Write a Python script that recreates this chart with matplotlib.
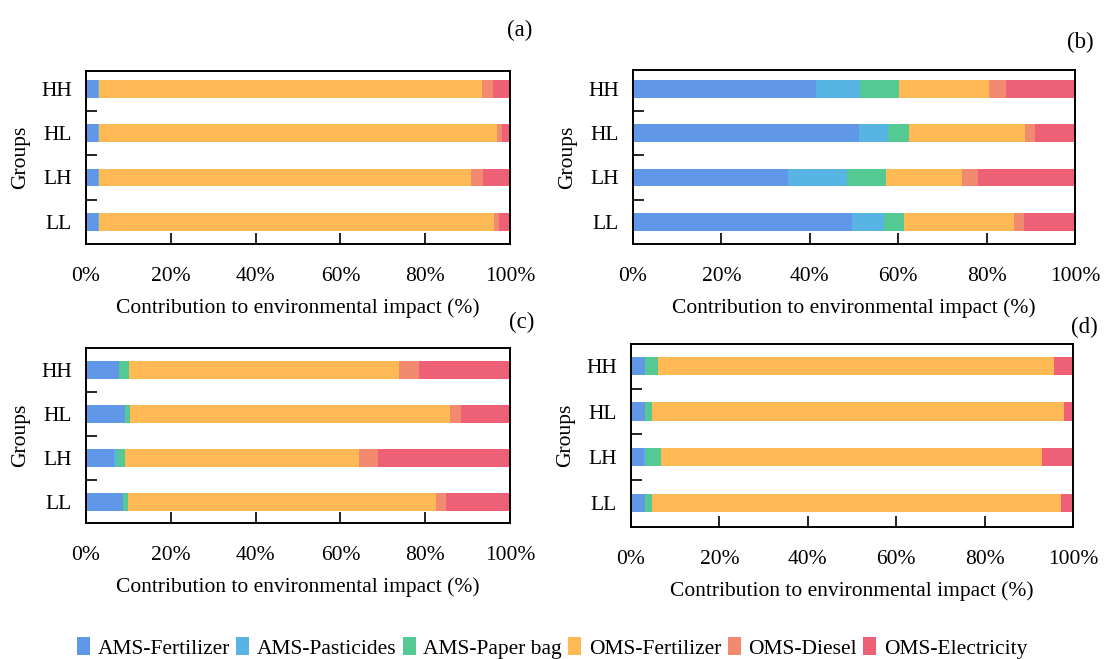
import matplotlib
matplotlib.use("Agg")
import matplotlib.pyplot as plt
import numpy as np

plt.rcParams['font.family'] = ['Liberation Serif', 'DejaVu Serif']

groups = ["LL", "LH", "HL", "HH"]
components = ["AMS-Fertilizer", "AMS-Pasticides", "AMS-Paper bag",
              "OMS-Fertilizer", "OMS-Diesel", "OMS-Electricity"]
colors = ["#6097E6", "#58B5E3", "#55C994", "#FFBA55", "#F28A70", "#EE6075"]

# values per panel, rows = components, columns = groups (LL, LH, HL, HH)
panel_a = {
    "AMS-Fertilizer":  [2.75, 2.75, 2.75, 2.75],
    "AMS-Pasticides":  [0.3, 0.3, 0.3, 0.3],
    "AMS-Paper bag":   [0.0, 0.0, 0.0, 0.0],
    "OMS-Fertilizer":  [93.2, 87.7, 93.9, 90.3],
    "OMS-Diesel":      [1.2, 2.8, 1.2, 2.6],
    "OMS-Electricity": [2.6, 6.4, 1.9, 4.0],
}
panel_b = {
    "AMS-Fertilizer":  [49.6, 35.1, 51.2, 41.4],
    "AMS-Pasticides":  [7.2, 13.4, 6.5, 9.95],
    "AMS-Paper bag":   [4.4, 8.8, 4.8, 8.9],
    "OMS-Fertilizer":  [24.9, 17.2, 26.2, 20.4],
    "OMS-Diesel":      [2.3, 3.6, 2.3, 3.85],
    "OMS-Electricity": [11.6, 21.9, 9.0, 15.5],
}
panel_c = {
    "AMS-Fertilizer":  [8.7, 6.6, 9.2, 7.8],
    "AMS-Pasticides":  [0.0, 0.7, 0.0, 0.0],
    "AMS-Paper bag":   [1.2, 1.9, 1.2, 2.4],
    "OMS-Fertilizer":  [72.6, 55.2, 75.5, 63.7],
    "OMS-Diesel":      [2.4, 4.5, 2.6, 4.7],
    "OMS-Electricity": [15.1, 31.1, 11.5, 21.4],
}
panel_d = {
    "AMS-Fertilizer":  [3.25, 3.0, 3.25, 3.25],
    "AMS-Pasticides":  [0.0, 0.45, 0.0, 0.0],
    "AMS-Paper bag":   [1.4, 3.4, 1.4, 2.95],
    "OMS-Fertilizer":  [92.7, 86.1, 93.4, 89.5],
    "OMS-Diesel":      [0.0, 0.0, 0.0, 0.0],
    "OMS-Electricity": [2.65, 7.05, 1.95, 4.3],
}
panel_labels = ["(a)", "(b)", "(c)", "(d)"]
xticks = [0, 20, 40, 60, 80, 100]
xticklabels = ["0%", "20%", "40%", "60%", "80%", "100%"]

W, H = 1105, 659
fig = plt.figure(figsize=(W / 100, H / 100), dpi=100)

def px_axes(left, right, top, bottom):
    return fig.add_axes([left / W, 1 - bottom / H, (right - left) / W, (bottom - top) / H])

layout = [
    # left, right, top, bottom, ylim, label pos
    (86, 510, 71, 244, (-0.5, 3.4), (520, 30)),
    (633, 1075, 70, 244, (-0.5, 3.42), (1080, 42)),
    (86, 510, 348, 523, (-0.48, 3.5), (522, 322)),
    (631, 1073, 344, 527, (-0.525, 3.48), (1084, 327)),
]
panels = [panel_a, panel_b, panel_c, panel_d]
fs = 15.5

handles = None
for data, (l, r, t, b, ylim, lab), plab in zip(panels, layout, panel_labels):
    ax = px_axes(l, r, t, b)
    y = np.arange(len(groups))
    left = np.zeros(len(groups))
    hs = []
    for comp, col in zip(components, colors):
        vals = np.array(data[comp])
        h = ax.barh(y, vals, left=left, height=0.4, color=col, label=comp, linewidth=0)
        hs.append(h)
        left += vals
    handles = hs
    ax.set_xlim(0, 100)
    ax.set_ylim(*ylim)
    ax.set_yticks(y)
    ax.set_yticklabels(groups, fontsize=fs)
    ax.set_yticks([0.5, 1.5, 2.5], minor=True)
    ax.tick_params(axis='y', which='major', length=0, pad=10)
    ax.tick_params(axis='y', which='minor', direction='in', length=8, width=1.2)
    ax.set_xticks(xticks)
    ax.set_xticklabels(xticklabels, fontsize=fs)
    ax.tick_params(axis='x', which='major', direction='in', length=8, width=1.2, pad=16.5)
    ax.set_xlabel("Contribution to environmental impact (%)", fontsize=fs, labelpad=9)
    ax.set_ylabel("Groups", fontsize=fs, labelpad=8)
    for s in ax.spines.values():
        s.set_linewidth(1.4)
    fig.text(lab[0] / W, 1 - lab[1] / H, plab, fontsize=fs + 1, ha='center', va='center')

fig.legend(handles, components, loc='center', bbox_to_anchor=(552 / W, 1 - 648 / H),
           ncol=6, frameon=False, fontsize=fs, handlelength=0.6, handleheight=0.9,
           handletextpad=0.35, columnspacing=0.3, borderaxespad=0)

fig.savefig("out.png", dpi=100)
